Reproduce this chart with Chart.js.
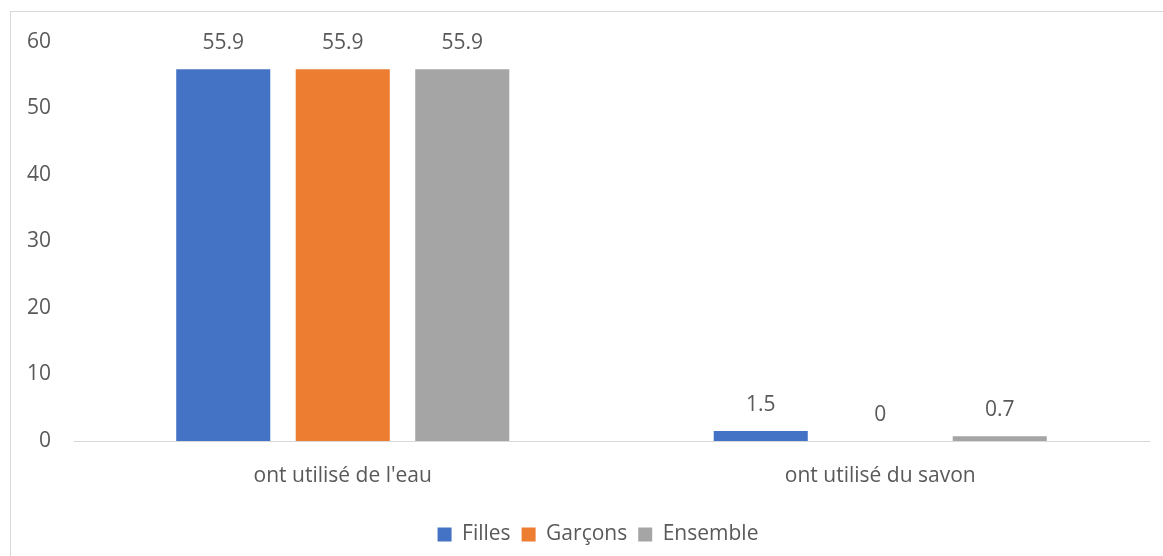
<!DOCTYPE html>
<html>
<head>
<meta charset="utf-8">
<script src="https://cdn.jsdelivr.net/npm/chart.js@4"></script>
<style>
  html, body { margin: 0; padding: 0; background: #fff; overflow: hidden; }
  #frame {
    position: absolute; left: 10px; top: 11px;
    width: 1174px; height: 560px;
    border: 1px solid #d9d9d9; box-sizing: content-box;
  }
  #frame canvas { display: block; }
</style>
</head>
<body>
<div id="frame"><canvas id="c" width="1174" height="560"></canvas></div>
<script>
// Categories and series
const categories = ["ont utilisé de l'eau", "ont utilisé du savon"];
const filles   = [55.9, 1.5];
const garcons  = [55.9, 0];
const ensemble = [55.9, 0.7];
const yTicks   = [0, 10, 20, 30, 40, 50, 60];

const FONT = "'Open Sans', 'Noto Sans', sans-serif";
const TEXT = '#595959';
const SIZE = 21;

// Writes each bar's value just above it
const valueLabels = {
  id: 'valueLabels',
  afterDatasetsDraw(chart) {
    const ctx = chart.ctx;
    ctx.save();
    ctx.font = SIZE + 'px ' + FONT;
    ctx.fillStyle = TEXT;
    ctx.textAlign = 'center';
    ctx.textBaseline = 'middle';
    chart.data.datasets.forEach((ds, i) => {
      chart.getDatasetMeta(i).data.forEach((bar, j) => {
        ctx.fillText(String(ds.data[j]), bar.x, bar.y - 26);
      });
    });
    ctx.restore();
  }
};

new Chart(document.getElementById('c'), {
  type: 'bar',
  data: {
    labels: categories,
    datasets: [
      { label: 'Filles',   data: filles,   backgroundColor: '#4472C4' },
      { label: 'Garçons',  data: garcons,  backgroundColor: '#ED7D31' },
      { label: 'Ensemble', data: ensemble, backgroundColor: '#A5A5A5' }
    ]
  },
  options: {
    responsive: false,
    animation: false,
    layout: { padding: { top: 30, right: 0, bottom: 17, left: 0 } },
    datasets: { bar: { categoryPercentage: 0.667, barPercentage: 0.787 } },
    plugins: {
      tooltip: { enabled: false },
      legend: {
        position: 'bottom',
        labels: {
          color: TEXT,
          font: { family: FONT, size: SIZE },
          boxWidth: 14, boxHeight: 14, padding: 11
        }
      }
    },
    scales: {
      x: {
        grid: { display: false, drawTicks: false },
        border: { display: true, color: '#d9d9d9', width: 1 },
        ticks: { color: TEXT, font: { family: FONT, size: SIZE }, padding: 22 },
        afterFit(s) { s.height = 72; s.paddingLeft = 0; s.paddingRight = 0; }
      },
      y: {
        min: 0, max: 60,
        afterBuildTicks(s) { s.ticks = yTicks.map(v => ({ value: v })); },
        grid: { display: false, drawTicks: false },
        border: { display: false },
        ticks: { color: TEXT, font: { family: FONT, size: SIZE }, padding: 23 },
        afterFit(s) { s.width = 63; s.paddingTop = 0; s.paddingBottom = 0; }
      },
      // empty margin on the right of the plot
      yRight: {
        position: 'right',
        grid: { display: false, drawTicks: false },
        border: { display: false },
        ticks: { display: false },
        afterFit(s) { s.width = 36; s.paddingTop = 0; s.paddingBottom = 0; }
      }
    }
  },
  plugins: [valueLabels]
});
</script>
</body>
</html>
